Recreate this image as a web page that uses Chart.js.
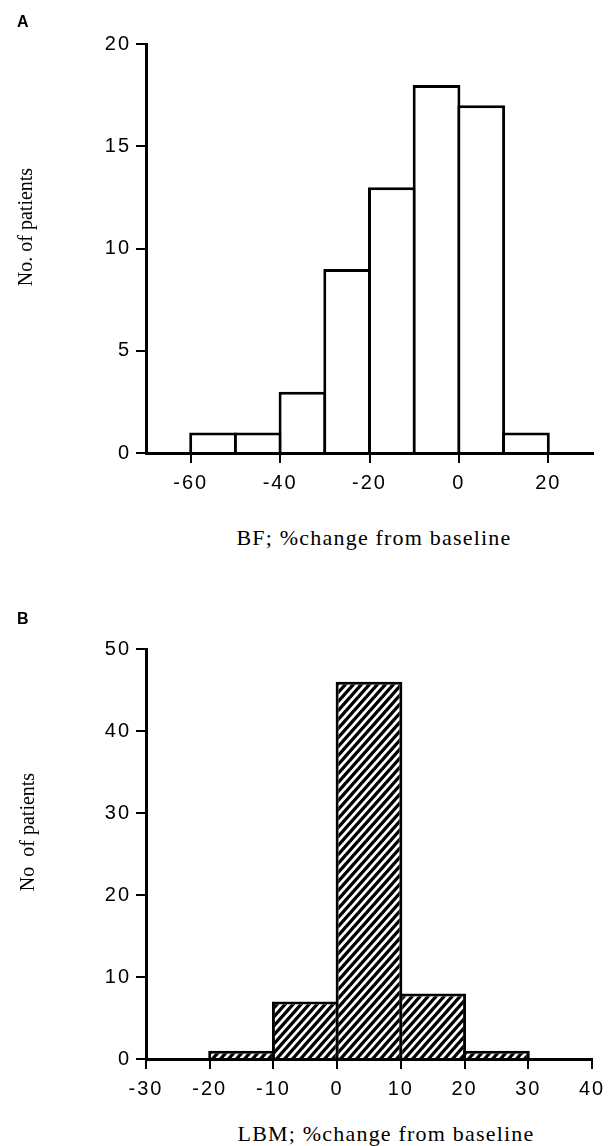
<!DOCTYPE html>
<html>
<head>
<meta charset="utf-8">
<script src="https://cdn.jsdelivr.net/npm/chart.js@4.4.1/dist/chart.umd.min.js"></script>
<style>
  html, body { margin: 0; padding: 0; background: #fff; }
  #page { position: relative; width: 616px; height: 1146px; overflow: hidden; }
  canvas { position: absolute; left: 0; }
  .panel { position: absolute; left: 17px; font: bold 16px "Liberation Sans", Arial, sans-serif; line-height: 16px; }
  .xtitle { position: absolute; width: 400px; text-align: center; font: 22px "Liberation Serif", serif; line-height: 22px; letter-spacing: 1.2px; white-space: pre; }
  .ytitle { position: absolute; width: 200px; height: 20px; text-align: center; font: 20px "Liberation Serif", serif; line-height: 20px; white-space: pre; transform: rotate(-90deg); }
</style>
</head>
<body>
<div id="page">
  <canvas id="chartA" width="616" height="510" style="top:0"></canvas>
  <canvas id="chartB" width="616" height="540" style="top:560px"></canvas>
  <div class="panel" style="top:14px">A</div>
  <div class="panel" style="top:611px">B</div>
  <div class="ytitle" style="left:-75px; top:217px">No. of patients</div>
  <div class="ytitle" style="left:-73px; top:822px">No  of patients</div>
  <div class="xtitle" style="left:174px; top:527px">BF; %change from baseline</div>
  <div class="xtitle" style="left:186px; top:1123px">LBM; %change from baseline</div>
</div>
<script>
// Panel A: body fat, % change from baseline (left edges of 10-point bins)
const bfBinStart = [-60, -50, -40, -30, -20, -10, 0, 10];
const bfCounts   = [1, 1, 3, 9, 13, 18, 17, 1];
const bfXTicks   = [-60, -40, -20, 0, 20];
const bfYTicks   = [0, 5, 10, 15, 20];

// Panel B: lean body mass, % change from baseline
const lbmBinStart = [-20, -10, 0, 10, 20];
const lbmCounts   = [1, 7, 46, 8, 1];
const lbmXTicks   = [-30, -20, -10, 0, 10, 20, 30, 40];
const lbmYTicks   = [0, 10, 20, 30, 40, 50];

const BIN = 10;
const LINE = 3;
const tickFont = { family: '"Liberation Sans", Arial, sans-serif', size: 20 };

// tick numbers in the figure are set a little loose
const spacedTicks = {
  id: 'spacedTicks',
  beforeDraw(chart) { chart.ctx.letterSpacing = '2px'; }
};

function hatch() {
  const w = 8, h = 9;
  const c = document.createElement('canvas');
  c.width = w; c.height = h;
  const g = c.getContext('2d');
  g.fillStyle = '#fff';
  g.fillRect(0, 0, w, h);
  g.strokeStyle = '#000';
  g.lineWidth = 3.2;
  g.beginPath();
  for (const dx of [-w, 0, w]) {
    g.moveTo(dx - w, 2 * h);
    g.lineTo(dx + 2 * w, -h);
  }
  g.stroke();
  return g.createPattern(c, 'repeat');
}

function axis(min, max, ticks, pad, fit) {
  return {
    type: 'linear', min: min, max: max, offset: false,
    afterBuildTicks: s => { s.ticks = ticks.map(v => ({ value: v })); },
    afterFit: fit,
    grid: { drawOnChartArea: false, offset: false, color: '#000', lineWidth: 2, tickLength: 10 },
    border: { color: '#000', width: LINE, z: 1 },
    ticks: { color: '#000', font: tickFont, padding: pad, maxRotation: 0, autoSkip: false }
  };
}

function histogram(id, o) {
  // widen each bar by one border so neighbouring outlines overlap instead of doubling
  const pxPerBin = o.plotW / (o.xMax - o.xMin) * BIN;
  return new Chart(document.getElementById(id), {
    type: 'bar',
    data: {
      datasets: [{
        data: o.starts.map((s, i) => ({ x: s + BIN / 2, y: o.counts[i] })),
        backgroundColor: o.fill,
        borderColor: '#000',
        borderWidth: LINE,
        borderSkipped: 'start',
        barPercentage: 1 + LINE / pxPerBin,
        categoryPercentage: 1,
        clip: false
      }]
    },
    options: {
      responsive: false,
      animation: false,
      events: [],
      layout: { padding: o.pad },
      plugins: { legend: { display: false }, tooltip: { enabled: false } },
      scales: {
        x: axis(o.xMin, o.xMax, o.xTicks, 8, s => { s.height = o.xH; }),
        y: axis(0, o.yMax, o.yTicks, 5, s => { s.width = 146; })
      }
    },
    plugins: [spacedTicks]
  });
}

window.addEventListener('DOMContentLoaded', () => {
  histogram('chartA', {
    starts: bfBinStart, counts: bfCounts, fill: '#fff',
    xMin: -70, xMax: 30, xTicks: bfXTicks, yMax: 20, yTicks: bfYTicks,
    plotW: 447, xH: 57, pad: { top: 44, right: 23, left: 0, bottom: 0 }
  });
  histogram('chartB', {
    starts: lbmBinStart, counts: lbmCounts, fill: hatch(),
    xMin: -30, xMax: 40, xTicks: lbmXTicks, yMax: 50, yTicks: lbmYTicks,
    plotW: 446, xH: 41, pad: { top: 89, right: 24, left: 0, bottom: 0 }
  });
});
</script>
</body>
</html>
